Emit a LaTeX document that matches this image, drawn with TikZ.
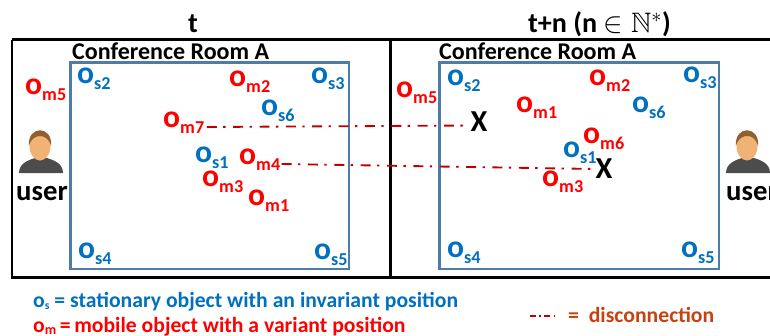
\documentclass[tikz,border=0pt]{standalone}
\usepackage{amsmath,amssymb}
\usepackage{fontspec}
\setmainfont{Carlito}
\usepackage{xcolor}
\usetikzlibrary{positioning,calc}

\definecolor{statblue}{HTML}{0070C0}
\definecolor{mobred}{HTML}{FF0000}
\definecolor{roomblue}{HTML}{4F7BA8}
\definecolor{cutred}{HTML}{C00000}
\definecolor{cutorange}{HTML}{C8420F}

\tikzset{
  objs/.style={anchor=base west, inner sep=0pt, text=statblue},
  objm/.style={anchor=base west, inner sep=0pt, text=mobred},
  roombox/.style={draw=roomblue, line width=2pt},
  cutline/.style={draw=cutred, line width=1.6pt, dash pattern=on 8.5pt off 5.5pt on 2pt off 6.5pt},
  toplabel/.style={anchor=base west, inner sep=0pt, font=\fontsize{20.5}{21}\selectfont\bfseries},
  legendlabel/.style={anchor=base west, inner sep=0pt, font=\fontsize{18.5}{19}\selectfont\bfseries}
}
\newcommand{\objlabel}[1]{{\fontsize{27}{27}\selectfont\bfseries o}\raisebox{-5.5pt}{\fontsize{15.5}{16}\selectfont\bfseries #1}}

\begin{document}
\begin{tikzpicture}[x=0.03cm, y=-0.03cm]
  \useasboundingbox (0,0) rectangle (770,336);

  % Frame
  \draw[line width=2.2pt] (12,39.5) -- (770,39.5);
  \draw[line width=2.2pt] (770,277.5) -- (12,277.5) -- (12,39.5);
  \draw[line width=2.2pt] (390.5,39.5) -- (390.5,277.5);

  % Titles
  \node[anchor=base, inner sep=0pt, font=\fontsize{24}{24}\selectfont\bfseries] (tleft) at (193,33) {t};
  \node[anchor=base west, inner sep=0pt, font=\fontsize{24}{24}\selectfont\bfseries] (tright) at (528,33) {t+n (n $\in\mathbb{N}^{*}$)};

  % Rooms
  \draw[roombox] (70.5,62.5) rectangle (349,269);
  \draw[roombox] (439.5,62.5) rectangle (719,269);
  \node[toplabel] (rooma) at (72,59) {Conference Room A};
  \node[toplabel] (roomb) at (439,59) {Conference Room A};

  % Stationary objects
  \foreach \nm/\x/\y/\lbl in {a2/77/83/s2, a3/311/83/s3, a6/261/115/s6, a1/195/162/s1, a4/78/258/s4, a5/314/259/s5,
    b2/447/85/s2, b3/683/82/s3, b6/632/112/s6, b1/563/157/s1, b4/447/257/s4, b5/681/257/s5} {
    \node[objs] (os\nm) at (\x,\y) {\objlabel{\lbl}};
  }

  % Mobile objects
  \foreach \nm/\x/\y/\lbl in {a5/25/94/m5, a2/229/86/m2, a7/163/127/m7, a4/239/164/m4, a3/202/186/m3, a1/248/205/m1,
    b5/396/97/m5, b2/589/85/m2, b1/516/112/m1, b6/583/143/m6, b3/542/186/m3} {
    \node[objm] (om\nm) at (\x,\y) {\objlabel{\lbl}};
  }

  % Lost positions
  \node[inner sep=0pt, font=\fontsize{26}{26}\selectfont\bfseries] (xa) at (479,122) {X};
  \node[inner sep=0pt, font=\fontsize{26}{26}\selectfont\bfseries] (xb) at (604,169) {X};
  \draw[cutline] ([xshift=2pt]oma7.base east) -- ([yshift=-3pt]xa.west);
  \draw[cutline] ([xshift=1pt]oma4.base east) -- (xb.west);

  % Users
  \foreach \ux/\nm in {41/usera, 748/userb} {
    \fill[black!70] (\ux-22,173) .. controls (\ux-22,163) and (\ux-12,160) .. (\ux-6,158)
      -- (\ux+6,158) .. controls (\ux+12,160) and (\ux+22,163) .. (\ux+22,173) -- cycle;
    \fill[orange!60!brown!60] (\ux-1,146) ellipse (10.5 and 14.5);
    \fill[brown!75!black] (\ux-12,146) .. controls (\ux-14,125) and (\ux+12,125) .. (\ux+10,146)
      .. controls (\ux+8,138) and (\ux+3,136) .. (\ux-1,136) .. controls (\ux-5,136) and (\ux-10,138) .. (\ux-12,146) -- cycle;
  }
  \node[anchor=base, inner sep=0pt, font=\fontsize{24.5}{25}\selectfont\bfseries] (lblusera) at (42,200) {user};
  \node[anchor=base west, inner sep=0pt, font=\fontsize{24.5}{25}\selectfont\bfseries] (lbluserb) at (726,200) {user};

  % Legend
  \node[legendlabel, text=statblue] (legs) at (33,307) {o\raisebox{-2.5pt}{\fontsize{10}{10}\selectfont s} = stationary object with an invariant position};
  \node[legendlabel, text=mobred] (legm) at (33,332) {o\raisebox{-2.5pt}{\fontsize{12}{12}\selectfont m}\,=\,mobile object with a variant position};
  \node[legendlabel, text=cutorange] (legc) at (568,322) {=\ \ disconnection};
  \coordinate (cuta) at (530,316);
  \coordinate (cutb) at (555,316);
  \draw[draw=cutred, line width=1.1pt, dash pattern=on 5pt off 3pt on 1.2pt off 3pt] (cuta) -- (cutb);
\end{tikzpicture}
\end{document}
